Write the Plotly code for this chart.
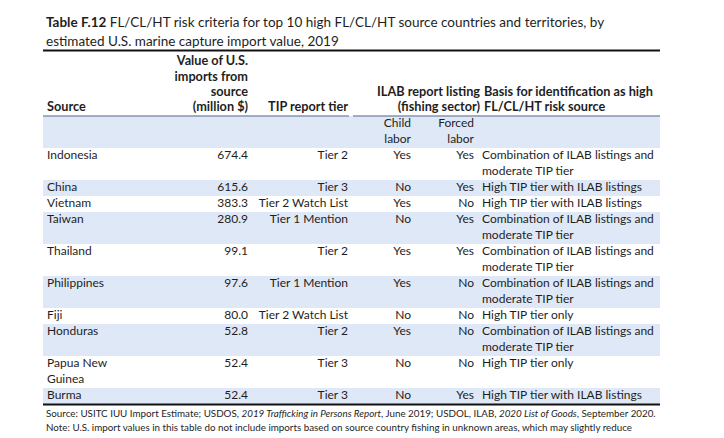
import plotly.graph_objects as go

# ---------------- data ----------------
sources = ["Indonesia", "China", "Vietnam", "Taiwan", "Thailand", "Philippines",
           "Fiji", "Honduras", "Papua New\nGuinea", "Burma"]
import_values = [674.4, 615.6, 383.3, 280.9, 99.1, 97.6, 80.0, 52.8, 52.4, 52.4]
tip_tiers = ["Tier 2", "Tier 3", "Tier 2 Watch List", "Tier 1 Mention", "Tier 2",
             "Tier 1 Mention", "Tier 2 Watch List", "Tier 2", "Tier 3", "Tier 3"]
child_labor = ["Yes", "No", "Yes", "No", "Yes", "Yes", "No", "Yes", "No", "No"]
forced_labor = ["Yes", "Yes", "No", "Yes", "Yes", "No", "No", "No", "No", "Yes"]
COMBO = "Combination of ILAB listings and\nmoderate TIP tier"
basis = [COMBO, "High TIP tier with ILAB listings", "High TIP tier with ILAB listings",
         COMBO, COMBO, COMBO, "High TIP tier only", COMBO, "High TIP tier only",
         "High TIP tier with ILAB listings"]

title_bold = "Table F.12"
title_line1 = " FL/CL/HT risk criteria for top 10 high FL/CL/HT source countries and territories, by"
title_line2 = "estimated U.S. marine capture import value, 2019"
header_source = ["Source"]
header_value = ["Value of U.S.", "imports from", "source", "(million $)"]
header_tip = ["TIP report tier"]
header_ilab = ["ILAB report listing", "(fishing sector)"]
header_basis = ["Basis for identification as high", "FL/CL/HT risk source"]
sub_child = ["Child", "labor"]
sub_forced = ["Forced", "labor"]
footnotes = [
    "Source: USITC IUU Import Estimate; USDOS, <i>2019 Trafficking in Persons Report</i>, June 2019; USDOL, ILAB, <i>2020 List of Goods</i>, September 2020.",
    "Note: U.S. import values in this table do not include imports based on source country fishing in unknown areas, which may slightly reduce",
    "import values compared to those seen in chapter 2.",
]

# ---------------- layout constants ----------------
W, H = 724, 438
OFF = 8  # the page body has an 8px margin; axes are shifted so data units = window pixels
FONT = "Lato"
TXT = "#1e1e1e"
BLUE = "#dee8f6"
BODY_SIZE = 12
HDR_SIZE = 12.7
TITLE_SIZE = 13.5
NOTE_SIZE = 9.8
LINE = 16
HDR_STEP = 15.3
T_LEFT, T_RIGHT = 43, 660
RULE_TOP = 50.5
HDR_BOTTOM = 108
HDR_RULE = 116
X_SOURCE, X_VALUE, X_TIP, X_CHILD, X_FORCED, X_BASIS = 47, 248, 348, 411, 474, 482
X_ILAB_H, X_BASIS_H = 480, 484

texts = {}


def add(x, y, s, align, bold=False, size=BODY_SIZE):
    key = (x, align, bold, size)
    d = texts.setdefault(key, {"y": [], "t": []})
    d["y"].append(y)
    d["t"].append(f"<b>{s}</b>" if bold else s)


shapes = []


def add_header(lines, x, align):
    n = len(lines)
    for i, s in enumerate(lines):
        add(x, HDR_BOTTOM - (n - 1 - i) * HDR_STEP, s, align, bold=True, size=HDR_SIZE)


add_header(header_source, X_SOURCE, "left")
add_header(header_value, X_VALUE, "right")
add_header(header_tip, X_TIP, "right")
add_header(header_ilab, X_ILAB_H, "right")
add_header(header_basis, X_BASIS_H, "left")

# sub-header row
top = HDR_RULE
sub_lines = max(len(sub_child), len(sub_forced))
shapes.append(dict(type="rect", xref="x", yref="y", x0=T_LEFT, x1=T_RIGHT, y0=top,
                   y1=top + sub_lines * LINE, fillcolor=BLUE, line=dict(width=0), layer="below"))
for i, s in enumerate(sub_child):
    add(X_CHILD, top + LINE / 2 + i * LINE, s, "right")
for i, s in enumerate(sub_forced):
    add(X_FORCED, top + LINE / 2 + i * LINE, s, "right")
top += sub_lines * LINE

# body rows
for r in range(len(sources)):
    cells = [
        (X_SOURCE, "left", sources[r]),
        (X_VALUE, "right", f"{import_values[r]:.1f}"),
        (X_TIP, "right", tip_tiers[r]),
        (X_CHILD, "right", child_labor[r]),
        (X_FORCED, "right", forced_labor[r]),
        (X_BASIS, "left", basis[r]),
    ]
    nlines = max(len(c[2].split("\n")) for c in cells)
    if r % 2 == 1:
        shapes.append(dict(type="rect", xref="x", yref="y", x0=T_LEFT, x1=T_RIGHT, y0=top,
                           y1=top + nlines * LINE, fillcolor=BLUE, line=dict(width=0),
                           layer="below"))
    for x, align, s in cells:
        for i, part in enumerate(s.split("\n")):
            add(x, top + LINE / 2 + i * LINE, part, align)
    top += nlines * LINE
table_bottom = top

# rules
shapes.append(dict(type="line", xref="x", yref="y", x0=T_LEFT, x1=T_RIGHT, y0=RULE_TOP,
                   y1=RULE_TOP, line=dict(color="#111111", width=2)))
shapes.append(dict(type="line", xref="x", yref="y", x0=T_LEFT, x1=349, y0=HDR_RULE,
                   y1=HDR_RULE, line=dict(color="#8596ae", width=1.5)))
shapes.append(dict(type="line", xref="x", yref="y", x0=353, x1=T_RIGHT, y0=HDR_RULE,
                   y1=HDR_RULE, line=dict(color="#8596ae", width=1.5)))
shapes.append(dict(type="line", xref="x", yref="y", x0=T_LEFT, x1=T_RIGHT, y0=table_bottom + 0.5,
                   y1=table_bottom + 0.5, line=dict(color="#111111", width=2)))

fig = go.Figure()
for (x, align, bold, size), d in texts.items():
    fig.add_trace(go.Scatter(
        x=[x] * len(d["y"]), y=d["y"], text=d["t"], mode="text",
        textposition="middle left" if align == "right" else "middle right",
        textfont=dict(family=FONT, size=size, color=TXT),
        hoverinfo="skip", showlegend=False,
    ))

annotations = [
    dict(x=44, y=22, xref="x", yref="y", xanchor="left", yanchor="middle", showarrow=False,
         text=f"<b>{title_bold}</b>{title_line1}", font=dict(family=FONT, size=TITLE_SIZE, color=TXT)),
    dict(x=44, y=41, xref="x", yref="y", xanchor="left", yanchor="middle", showarrow=False,
         text=title_line2, font=dict(family=FONT, size=TITLE_SIZE, color=TXT)),
]
for i, s in enumerate(footnotes):
    ypix = table_bottom + 8.5 + i * 14.8
    # paper coordinates so the last (partly cut-off) line is still drawn
    annotations.append(dict(x=44, y=(H - ypix) / (H - OFF), xref="x", yref="paper",
                            xanchor="left", yanchor="middle", showarrow=False, text=s,
                            font=dict(family=FONT, size=NOTE_SIZE, color=TXT)))

fig.update_layout(
    width=W - OFF, height=H - OFF, autosize=False,
    margin=dict(l=0, r=0, t=0, b=0, pad=0),
    paper_bgcolor="white", plot_bgcolor="white",
    xaxis=dict(range=[OFF, W], visible=False, fixedrange=True),
    yaxis=dict(range=[H, OFF], visible=False, fixedrange=True),
    shapes=shapes, annotations=annotations, hovermode=False,
)
fig.write_html("out.html")
